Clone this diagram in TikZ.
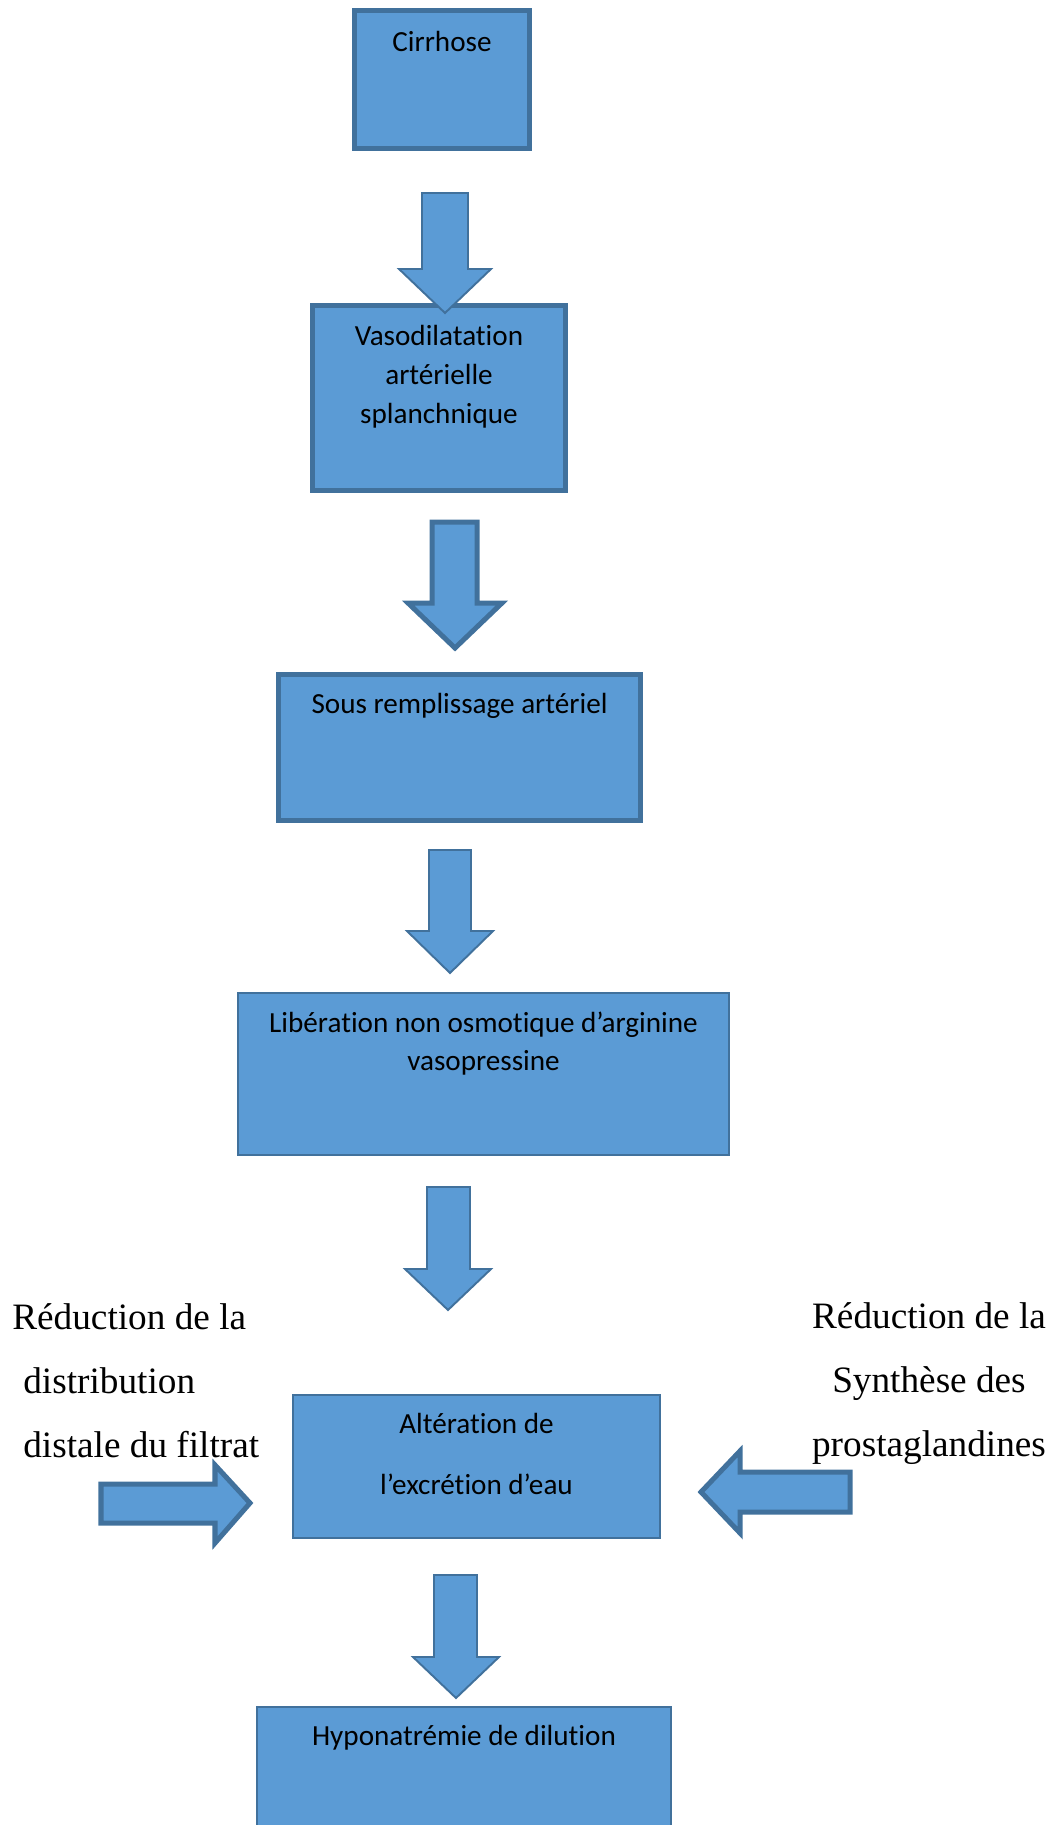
\documentclass[tikz,border=0pt]{standalone}
\usepackage{fontspec}
\setmainfont{Liberation Serif}
\newfontfamily\calibri[Ligatures=NoCommon]{Carlito}
\usetikzlibrary{positioning}
\definecolor{boxfill}{HTML}{5B9BD5}
\definecolor{boxline}{HTML}{41719C}
\tikzset{
  box/.style={draw=boxline, fill=boxfill, rectangle, inner sep=0pt},
  boxtext/.style={inner sep=0pt, align=center, font=\calibri\fontsize{16.6}{22.1}\selectfont},
  sidetext/.style={inner sep=0pt, font=\fontsize{21.2}{36.3}\selectfont},
  blockarrow/.style={draw=boxline, fill=boxfill, line join=miter},
}

\begin{document}
\begin{tikzpicture}[x=0.02cm, y=-0.02cm]
    % chaine physiopathologique de l'hyponatremie
    \def\u{0.02cm}
    \def\thick{2.85pt}
    \def\thin{1.1pt}
    \useasboundingbox (0,0) rectangle (1059,1825);

    % cadres
    \node[box, line width=\thick, minimum width=175*\u, minimum height=138*\u] (cirrhose) at (442,79.5) {};
    \node[box, line width=\thick, minimum width=253*\u, minimum height=185*\u] (vaso) at (439,398) {};
    \node[box, line width=\thick, minimum width=362*\u, minimum height=146*\u] (sous) at (459.5,747.5) {};
    \node[box, line width=\thin, minimum width=491*\u, minimum height=162*\u] (liberation) at (483.5,1074) {};
    \node[box, line width=\thin, minimum width=367*\u, minimum height=143*\u] (alteration) at (476.5,1466.5) {};
    \node[box, line width=\thin, minimum width=414*\u, minimum height=180*\u] (hypo) at (464,1797) {};

    % textes des cadres (base = derniere ligne)
    \node[boxtext, anchor=base] (cirrhoseT) at (442,52) {Cirrhose};
    \node[boxtext, anchor=base] (vasoT) at (439,423) {Vasodilatation\\art\'erielle\\splanchnique};
    \node[boxtext, anchor=base] (sousT) at (459.5,713) {Sous remplissage art\'eriel};
    \node[boxtext, anchor=base, font=\calibri\fontsize{16.6}{21.5}\selectfont] (liberationT) at (483.5,1070) {Lib\'eration non osmotique d’arginine\\vasopressine};
    \node[boxtext, anchor=base, font=\calibri\fontsize{16.6}{34.6}\selectfont] (alterationT) at (476.5,1494) {Alt\'eration de\\l’excr\'etion d’eau};
    \node[boxtext, anchor=base] (hypoT) at (464,1745) {Hyponatr\'emie de dilution};

    % textes lateraux
    \node[sidetext, anchor=base west, align=left] (distale) at (12,1457) {R\'eduction de la\\\hspace*{0.22cm}distribution\\\hspace*{0.22cm}distale du filtrat};
    \node[sidetext, anchor=base, align=center] (synthese) at (929,1456) {R\'eduction de la\\Synth\`ese des\\prostaglandines};

    % fleches
    \draw[blockarrow, line width=\thin] (422,193) -- (468,193) -- (468,269) -- (491,269) -- (445,313) -- (399,269) -- (422,269) -- cycle;
    \draw[blockarrow, line width=\thick] (432,522) -- (477,522) -- (477,603) -- (502,603) -- (455,648) -- (408,603) -- (432,603) -- cycle;
    \draw[blockarrow, line width=\thin] (429,850) -- (471,850) -- (471,931) -- (493,931) -- (450,973) -- (407,931) -- (429,931) -- cycle;
    \draw[blockarrow, line width=\thin] (427,1187) -- (470,1187) -- (470,1269) -- (491,1269) -- (448,1310) -- (405,1269) -- (427,1269) -- cycle;
    \draw[blockarrow, line width=\thin] (434,1575) -- (477,1575) -- (477,1657) -- (499,1657) -- (456,1698) -- (413,1657) -- (434,1657) -- cycle;
    \draw[blockarrow, line width=\thick] (101,1484) -- (215,1484) -- (215,1465) -- (250,1503) -- (215,1543) -- (215,1523) -- (101,1523) -- cycle;
    \draw[blockarrow, line width=\thick] (850,1472) -- (740,1472) -- (740,1451) -- (701,1492) -- (740,1533) -- (740,1512) -- (850,1512) -- cycle;
\end{tikzpicture}
\end{document}
